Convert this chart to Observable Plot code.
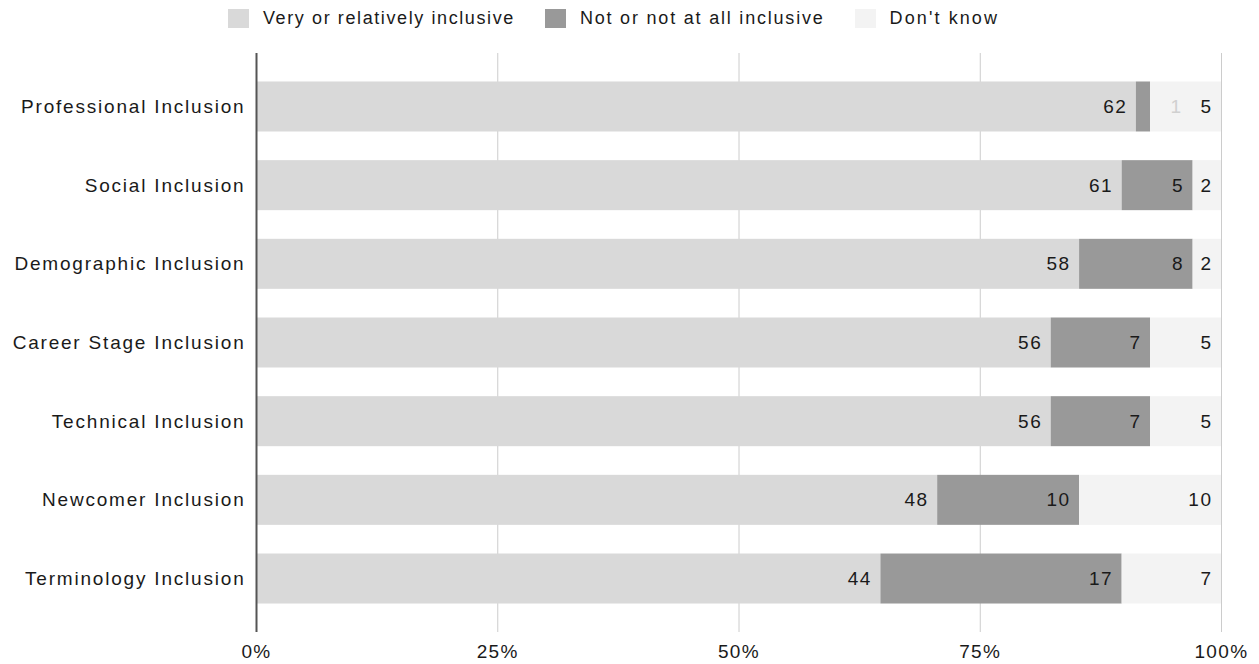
<!DOCTYPE html>
<html>
<head>
<meta charset="utf-8">
<script src="https://cdn.jsdelivr.net/npm/d3@7"></script>
<script src="https://cdn.jsdelivr.net/npm/@observablehq/plot@0.6"></script>
<style>
  html, body { margin: 0; padding: 0; background: #fff; }
  body { width: 1259px; height: 664px; overflow: hidden; font-family: "Liberation Sans", Arial, sans-serif; }
  #legend { height: 40px; display: flex; align-items: center; padding-left: 228px; padding-bottom: 3px; box-sizing: border-box; font-size: 18px; letter-spacing: 1.8px; color: #1a1a1a; }
  .item { display: flex; align-items: center; margin-right: 30px; }
  .sw { width: 21px; height: 19px; margin-right: 14px; }
  #chart svg { display: block; }
  #chart svg [aria-label="y-axis tick label"] text { letter-spacing: 1.8px; }
  #chart svg [aria-label="x-axis tick label"] text { letter-spacing: 1.4px; }
  #chart svg g[aria-label="text"] text { letter-spacing: 1.5px; }
</style>
</head>
<body>
<div id="legend"></div>
<div id="chart"></div>
<script>
const questions = ["Professional Inclusion", "Social Inclusion", "Demographic Inclusion", "Career Stage Inclusion", "Technical Inclusion", "Newcomer Inclusion", "Terminology Inclusion"];
const responses = ["Very or relatively inclusive", "Not or not at all inclusive", "Don't know"];
const inclusive = [62, 61, 58, 56, 56, 48, 44];
const notInclusive = [1, 5, 8, 7, 7, 10, 17];
const dontKnow = [5, 2, 2, 5, 5, 10, 7];
const colors = ["#d9d9d9", "#999999", "#f3f3f3"];
const xTicks = [0, 0.25, 0.5, 0.75, 1];

const series = [inclusive, notInclusive, dontKnow];
const data = [];
questions.forEach((q, i) => {
  responses.forEach((r, j) => {
    data.push({question: q, response: r, value: series[j][i]});
  });
});
const total = q => data.filter(d => d.question === q).reduce((s, d) => s + d.value, 0);
const W = 1259, H = 624, mL = 256, mR = 38;
const narrow = d => (d.value / total(d.question)) * (W - mL - mR) < 22;

// legend
const legend = document.getElementById("legend");
const legendSpacing = ["1.6px", "1.8px", "2.1px"];
responses.forEach((r, j) => {
  const it = document.createElement("div");
  it.className = "item";
  const sw = document.createElement("div");
  sw.className = "sw";
  sw.style.background = colors[j];
  const t = document.createElement("span");
  t.textContent = r;
  t.style.letterSpacing = legendSpacing[j];
  it.appendChild(sw); it.appendChild(t);
  legend.appendChild(it);
});

const stackOpts = {x: "value", y: "question", z: "response", order: responses, offset: "normalize"};

const chart = Plot.plot({
  width: W,
  height: H,
  marginTop: 13,
  marginBottom: 32,
  marginLeft: mL,
  marginRight: mR,
  style: {fontFamily: "'Liberation Sans', Arial, sans-serif", fontSize: "19px", color: "#1a1a1a", background: "#fff"},
  x: {domain: [0, 1]},
  y: {domain: questions, paddingInner: 0.3644, paddingOuter: 0.362, round: false},
  color: {domain: responses, range: colors},
  marks: [
    Plot.gridX(xTicks, {stroke: "#cccccc", strokeOpacity: 1, strokeWidth: 1}),
    Plot.barX(data, Plot.stackX({...stackOpts, fill: "response"})),
    Plot.ruleX([0], {stroke: "#555", strokeWidth: 2}),
    Plot.textX(data, Plot.stackX2({...stackOpts, text: d => narrow(d) ? "" : String(d.value), textAnchor: "end", dx: -9, fill: "#1a1a1a", fontSize: 19})),
    Plot.textX(data, Plot.stackX2({...stackOpts, text: d => narrow(d) ? String(d.value) : "", textAnchor: "end", dx: 32, fill: "#d0d0d0", fontSize: 19})),
    Plot.axisX(xTicks, {tickSize: 0, tickPadding: 12, tickFormat: d3.format(".0%"), fill: "#1a1a1a", fontSize: 19, label: null}),
    Plot.axisY({tickSize: 0, tickPadding: 11, fill: "#1a1a1a", fontSize: 19, label: null})
  ]
});
document.getElementById("chart").appendChild(chart);
</script>
</body>
</html>
